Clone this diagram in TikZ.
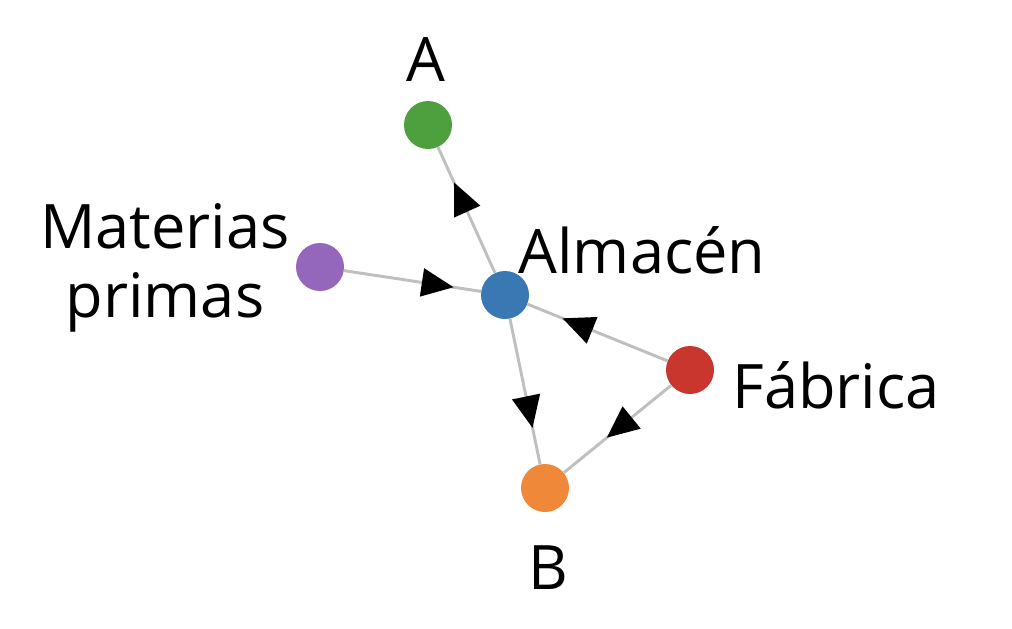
\documentclass[tikz,border=0pt]{standalone}
\usepackage{fontspec}
\setmainfont{Open Sans}
\usetikzlibrary{arrows.meta,decorations.markings}
\definecolor{cg}{HTML}{4E9F3D}
\definecolor{cp}{HTML}{9467BD}
\definecolor{cb}{HTML}{3A78B4}
\definecolor{cr}{HTML}{C8362E}
\definecolor{co}{HTML}{F0883A}
\tikzset{
 dot/.style={circle,inner sep=0pt,minimum size=36pt,fill=#1},
 lbl/.style={font=\fontsize{46}{52}\selectfont,align=center,inner sep=0pt},
 edge/.style={draw=black!25,line width=2.2pt,postaction={decorate},
  decoration={markings,mark=at position #1 with {\arrow[black]{Triangle[length=24pt,width=21pt]}}}}
}
\begin{document}
\begin{tikzpicture}[x=0.75pt,y=-0.75pt]
\useasboundingbox (0,0) rectangle (1012,628);
\node[dot=cg] (A) at (428,125) {};
\node[dot=cp] (M) at (320,267) {};
\node[dot=cb] (W) at (505,295) {};
\node[dot=cr] (F) at (690,370) {};
\node[dot=co] (B) at (545,488) {};
\node[lbl] (la) at (426,60) {A};
\node[lbl] (lm) at (165,268) {Materias\\primas};
\node[lbl] (lw) at (642,250) {Almacén};
\node[lbl] (lf) at (836,385) {Fábrica};
\node[lbl] (lb) at (548,568) {B};
\path[edge=0.72] (W) -- (A);
\path[edge=0.8] (M) -- (W);
\path[edge=0.75] (F) -- (W);
\path[edge=0.75] (W) -- (B);
\path[edge=0.6] (F) -- (B);
\end{tikzpicture}
\end{document}
